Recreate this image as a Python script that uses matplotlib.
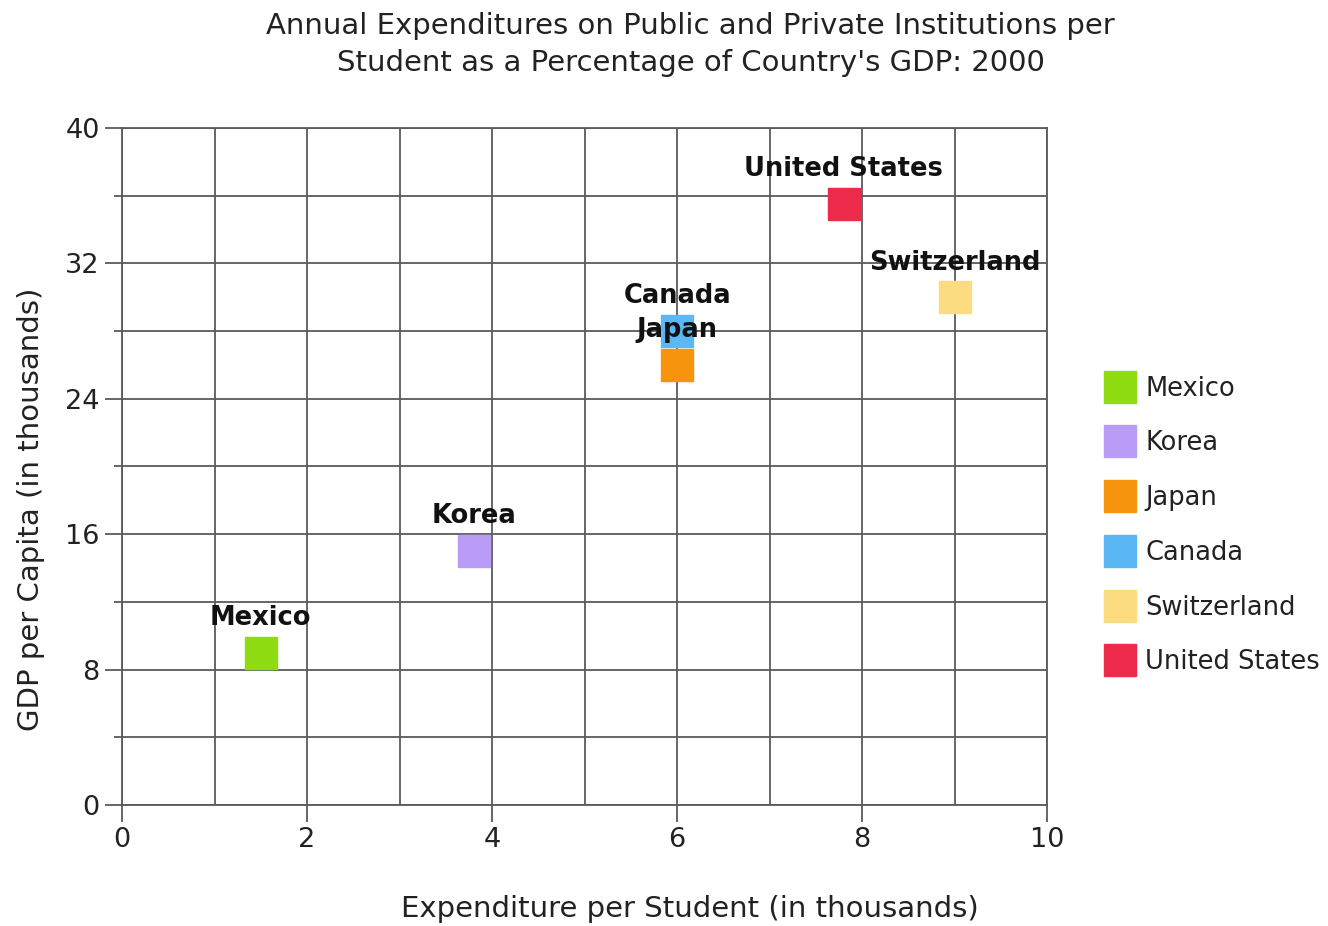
import matplotlib
matplotlib.use("Agg")
import matplotlib.pyplot as plt
from matplotlib.lines import Line2D

countries = ["Mexico", "Korea", "Japan", "Canada", "Switzerland", "United States"]
expenditure = [1.5, 3.8, 6.0, 6.0, 9.0, 7.8]
gdp = [9.0, 15.0, 26.0, 28.0, 30.0, 35.5]
colors = ["#8fdc12", "#b89cf5", "#f7940d", "#5bb8f5", "#fbdc80", "#ee2a4a"]

x_ticks = [0, 2, 4, 6, 8, 10]
y_ticks = [0, 8, 16, 24, 32, 40]

plt.rcParams['font.family'] = ['DejaVu Sans']

fig = plt.figure(figsize=(13.28, 9.26), dpi=100)
ax = fig.add_axes([0.0919, 0.1307, 0.6966, 0.7311])

grid_c = "#5a5a5a"
ax.set_xlim(0, 10)
ax.set_ylim(0, 40)
ax.set_xticks(x_ticks)
ax.set_yticks(y_ticks)
ax.set_xticks([1, 3, 5, 7, 9], minor=True)
ax.set_yticks([4, 12, 20, 28, 36], minor=True)
ax.grid(True, which='both', color=grid_c, linewidth=1.3)
ax.set_axisbelow(True)
for s in ax.spines.values():
    s.set_color(grid_c)
    s.set_linewidth(1.3)
ax.tick_params(which='major', length=12, width=1.3, color=grid_c, labelsize=19.5, pad=4, labelcolor='#222222')
ax.tick_params(which='minor', length=6, width=1.3, color=grid_c)
ax.tick_params(axis='x', which='minor', length=0)

for c, x, y, col in zip(countries, expenditure, gdp, colors):
    ax.plot([x], [y], marker='s', markersize=23, color=col, linestyle='none', zorder=3, clip_on=False)
    ax.annotate(c, (x, y), xytext=(0, 25), textcoords='offset points', ha='center', va='center',
                fontsize=18.5, fontweight='bold', color='#111111', zorder=4)

ax.set_xlabel("Expenditure per Student (in thousands)", fontsize=21, color='#222222')
ax.xaxis.set_label_coords(0.614, -0.133)
ax.set_ylabel("GDP per Capita (in thousands)", fontsize=21, color='#222222')
ax.yaxis.set_label_coords(-0.083, 0.436)
fig.suptitle("Annual Expenditures on Public and Private Institutions per\nStudent as a Percentage of Country's GDP: 2000",
             fontsize=21, y=0.987, x=0.52, linespacing=1.4, color='#222222')

handles = [Line2D([], [], marker='s', markersize=23, color=col, linestyle='none') for col in colors]
fig.legend(handles, countries, loc='center left', bbox_to_anchor=(0.815, 0.4325), frameon=False,
           fontsize=18.5, labelspacing=1.12, handletextpad=0.45, handlelength=1.1, labelcolor='#222222')

fig.savefig("out.png", dpi=100)
